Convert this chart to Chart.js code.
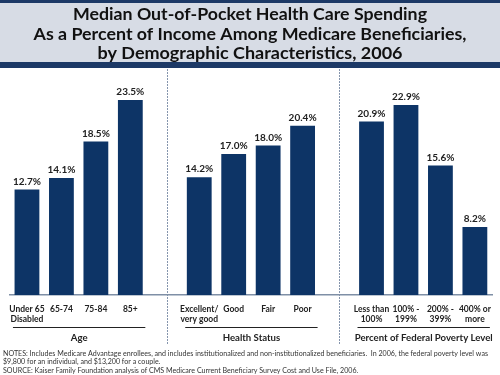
<!DOCTYPE html>
<html>
<head>
<meta charset="utf-8">
<script src="https://cdn.jsdelivr.net/npm/chart.js@4.4.0/dist/chart.umd.min.js"></script>
<style>
html, body { margin: 0; padding: 0; background: #fff; }
#wrap { width: 500px; height: 375px; position: relative; }
</style>
</head>
<body>
<div id="wrap"><canvas id="mycanvas"></canvas></div>
<script>
// chart data
var categories = [['Under 65', 'Disabled'], '65-74', '75-84', '85+', '',
	['Excellent/', 'very good'], 'Good', 'Fair', 'Poor', '',
	['Less than', '100%'], ['100% -', '199%'], ['200% -', '399%'], ['400% or', 'more']];
var values = [12.7, 14.1, 18.5, 23.5, null, 14.2, 17.0, 18.0, 20.4, null, 20.9, 22.9, 15.6, 8.2];
var groupNames = ['Age', 'Health Status', 'Percent of Federal Poverty Level'];
var groupFirst = [0, 5, 10];
var groupLast = [3, 8, 13];
var titleLines = ['Median Out-of-Pocket Health Care Spending',
	'As a Percent of Income Among Medicare Beneficiaries,',
	'by Demographic Characteristics, 2006'];
var notesLines = ['NOTES: Includes Medicare Advantage enrollees, and includes institutionalized and non-institutionalized beneficiaries.  In 2006, the federal poverty level was',
	'$9,800 for an individual, and $13,200 for a couple.',
	'SOURCE: Kaiser Family Foundation analysis of CMS Medicare Current Beneficiary Survey Cost and Use File, 2006.'];

var FONT = 'Lato, "Open Sans", sans-serif';

// draws text squeezed horizontally by sx
function drawText(ctx, txt, x, y, sx, align) {
	ctx.save();
	ctx.translate(x, y);
	ctx.scale(sx, 1);
	ctx.textAlign = align;
	ctx.textBaseline = 'middle';
	ctx.fillText(txt, 0, 0);
	ctx.restore();
}

var decor = {
	id: 'decor',
	beforeDraw: function(chart) {
		var ctx = chart.ctx;
		ctx.save();
		ctx.fillStyle = '#fff';
		ctx.fillRect(0, 0, chart.width, chart.height);
		// title band
		ctx.fillStyle = '#1c3966';
		ctx.fillRect(0, 0, chart.width, 3);
		ctx.fillRect(0, 62, chart.width, 6);
		ctx.fillStyle = '#d7dce5';
		ctx.fillRect(0, 3, chart.width, 59);
		ctx.fillStyle = '#111';
		var widths = [354, 433, 305];
		var ys = [15, 35, 54];
		for (var i = 0; i < titleLines.length; i++) {
			ctx.font = 'bold 17px ' + FONT;
			var w = ctx.measureText(titleLines[i]).width;
			drawText(ctx, titleLines[i], 250, ys[i], widths[i] / w, 'center');
		}
		// dashed separators
		var x = chart.scales.x;
		ctx.strokeStyle = '#8595ad';
		ctx.lineWidth = 1;
		ctx.setLineDash([2, 1]);
		[4, 9].forEach(function(k) {
			var px = Math.round(x.getPixelForValue(k) + 2) + 0.5;
			ctx.beginPath();
			ctx.moveTo(px, 69);
			ctx.lineTo(px, 344);
			ctx.stroke();
		});
		ctx.restore();
	},
	afterDatasetsDraw: function(chart) {
		var ctx = chart.ctx;
		var meta = chart.getDatasetMeta(0);
		ctx.save();
		ctx.fillStyle = '#222';
		ctx.font = 'bold 10px ' + FONT;
		ctx.textAlign = 'center';
		ctx.textBaseline = 'middle';
		meta.data.forEach(function(bar, i) {
			if (values[i] === null) return;
			ctx.fillText(values[i].toFixed(1) + '%', bar.x, bar.y - 8);
		});
		ctx.restore();
	},
	afterDraw: function(chart) {
		var ctx = chart.ctx;
		var x = chart.scales.x;
		ctx.save();
		// group underlines and names
		ctx.strokeStyle = '#222';
		ctx.lineWidth = 1;
		ctx.font = 'bold 10px ' + FONT;
		var gs = 138 / ctx.measureText(groupNames[2]).width;
		ctx.fillStyle = '#222';
		for (var g = 0; g < groupNames.length; g++) {
			var a = x.getPixelForValue(groupFirst[g]) - 14;
			var b = x.getPixelForValue(groupLast[g]) + 15;
			ctx.beginPath();
			ctx.moveTo(a, 327.5);
			ctx.lineTo(b, 327.5);
			ctx.stroke();
			drawText(ctx, groupNames[g], (a + b) / 2, 338, gs, 'center');
		}
		// notes
		ctx.fillStyle = '#333';
		ctx.font = '7px ' + FONT;
		var ns = 485 / ctx.measureText(notesLines[0]).width;
		var ny = [354, 362, 371];
		for (var i = 0; i < notesLines.length; i++) {
			drawText(ctx, notesLines[i], 3, ny[i], ns, 'left');
		}
		ctx.restore();
	}
};

var ctx = document.getElementById('mycanvas');
var barGraph = new Chart(ctx, {
	type: 'bar',
	data: {
		labels: categories,
		datasets: [{
			data: values,
			backgroundColor: '#0d3466',
			barPercentage: 0.72,
			categoryPercentage: 1.0
		}]
	},
	options: {
		responsive: true,
		maintainAspectRatio: false,
		animation: false,
		layout: { padding: { top: 87.5, left: 9, right: 6, bottom: 0 } },
		plugins: { legend: { display: false }, tooltip: { enabled: false } },
		scales: {
			x: {
				grid: { display: false, drawTicks: false },
				border: { display: true, color: '#7f8fa6', width: 1.5 },
				ticks: {
					color: '#222',
					font: { family: FONT, size: 8.5, weight: 'bold' },
					maxRotation: 0,
					autoSkip: false,
					padding: 9
				},
				afterFit: function(scale) { scale.height = 80; }
			},
			y: { display: false, min: 0, max: 25 }
		}
	},
	plugins: [decor]
});
</script>
</body>
</html>
